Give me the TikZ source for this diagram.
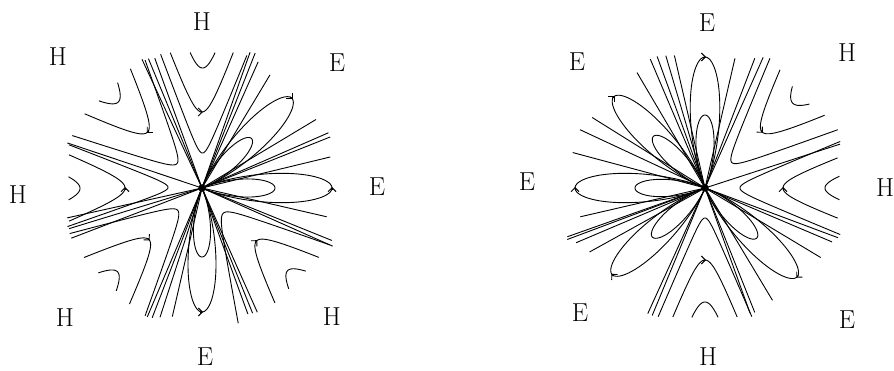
\documentclass[tikz,border=0pt]{standalone}
\usetikzlibrary{arrows.meta,calc}
% hyperbola-like trajectory: arm angles #1,#2 (at radius #4), vertex distance #3, arrow: #5 = 1 (ccw), -1 (cw), 0 (none)
\newcommand{\hypc}[5]{%
  \pgfmathsetmacro{\hm}{(#1+#2)/2}%
  \pgfmathsetmacro{\hh}{(#2-#1)/2/(1-asin(#3/#4)/90)}%
  \pgfmathsetmacro{\hV}{ln(#4/#3+sqrt((#4/#3)^2-1))}%
  \draw plot[domain=-\hV:\hV, samples=70, smooth, variable=\v]
    ({\cx+#3*cosh(\v)*cos(\hm-\hh+\hh/90*acos(-tanh(\v)))},
     {\cy+#3*cosh(\v)*sin(\hm-\hh+\hh/90*acos(-tanh(\v)))});%
  \ifnum#5=0 \else\tipat{\hm}{#3}{\hm+#5*90}\fi
}
% elliptic loop: direction #1, length #2, half opening #3, exponent #4, arrow #5
\newcommand{\petc}[5]{%
  \pgfmathsetmacro{\pw}{#3-0.05}%
  \draw (\cx,\cy) -- plot[domain=-\pw:\pw, samples=90, smooth, variable=\t]
    ({\cx+#2*pow(cos(90*\t/#3),#4)*cos(#1+\t)},
     {\cy+#2*pow(cos(90*\t/#3),#4)*sin(#1+\t)}) -- (\cx,\cy);%
  \ifnum#5=0 \else\tipat{#1}{#2}{#1+#5*90}\fi
}
% arrow head at polar point (#1:#2) from the centre, pointing to direction #3
\newcommand{\tipat}[3]{%
  \pgfmathsetmacro{\tdir}{#3}%
  \draw[-{Straight Barb[length=4pt,width=8pt]}] ($(\cx,\cy)+(#1:#2)+(\tdir+180:2)$) -- ++(\tdir:3);%
}
\begin{document}
\begin{tikzpicture}[x=1pt,y=1pt,line width=0.9pt,line join=round,
  lbl/.style={font=\fontsize{26pt}{30pt}\selectfont,inner sep=0pt},
  dot/.style={circle,fill,inner sep=0pt,minimum size=7.5pt}]
\useasboundingbox (0,0) rectangle (894,370);

% ---------------- left portrait ----------------
\def\cx{202}\def\cy{182}
\coordinate (c1) at (\cx,\cy);
\hypc{71.3}{107.2}{35}{140}{0}
\hypc{77}{103.2}{76}{139}{-1}
\hypc{84.5}{95}{120}{136}{0}
\hypc{114}{158}{35}{140}{0}
\hypc{121}{147.7}{78}{139}{1}
\hypc{128.7}{139.8}{120}{135}{0}
\hypc{162}{196}{34}{140}{0}
\hypc{166}{194}{77}{137}{-1}
\hypc{175.2}{185.1}{122}{134}{0}
\hypc{199}{246}{33}{140}{0}
\hypc{210.5}{238}{74}{137}{1}
\hypc{219.3}{230.2}{119}{134}{0}
\hypc{285}{336}{33}{140}{0}
\hypc{302.4}{329.3}{76}{136}{1}
\hypc{310.7}{321.3}{119}{133}{0}
\petc{270}{124}{30}{3}{1}
\petc{270}{69}{26}{1.8}{0}
\petc{0}{130}{30}{3}{1}
\petc{0}{73}{26}{1.8}{0}
\petc{45}{127}{30}{3}{-1}
\petc{45}{70}{26}{1.8}{0}
\foreach \a/\l in {110/138,112.5/140,115/142,59/132,66/138,68.5/145,70.5/144,
  13.6/132,21.7/138,23.6/138,31/133,-13/128,-22/140,-24/143,290/134,292/135,
  294/136,247/140,249/139,252/136,257/132,161.5/142,192.5/138,197/139,201/140}
  \draw (c1) -- +(\a:\l);
\node[dot] (o1) at (c1) {};
\node[lbl] (l1) at (202,348) {H};
\node[lbl] (l2) at (337,307) {E};
\node[lbl] (l3) at (377,183) {E};
\node[lbl] (l4) at (332,53) {H};
\node[lbl] (l5) at (205,13) {E};
\node[lbl] (l6) at (65,52) {H};
\node[lbl] (l7) at (18,175) {H};
\node[lbl] (l8) at (58,313) {H};

% ---------------- right portrait ----------------
\def\cx{705}\def\cy{182}
\coordinate (c2) at (\cx,\cy);
\hypc{-19}{19}{35}{143}{0}
\hypc{-12.8}{12.8}{78}{136}{1}
\hypc{-5}{5}{120}{135}{0}
\hypc{23.7}{63.4}{37}{145}{0}
\hypc{31.3}{57.6}{80}{140}{-1}
\hypc{38.8}{49.3}{122}{134}{0}
\hypc{250}{290}{30}{137}{0}
\hypc{256}{284}{72}{133}{1}
\hypc{264.2}{275.8}{114}{130}{0}
\petc{90}{131}{30}{3}{-1}
\petc{90}{73}{26}{1.8}{0}
\petc{135}{129}{30}{3}{-1}
\petc{135}{73}{26}{1.8}{0}
\petc{180}{130}{30}{3}{-1}
\petc{180}{70}{26}{1.8}{0}
\petc{223}{127}{30}{3}{-1}
\petc{223}{72}{26}{1.8}{0}
\petc{316}{128}{30}{3}{-1}
\petc{316}{72}{26}{1.8}{0}
\foreach \a/\l in {18/142,77/133,69/139,66/143,103/136,106.5/138,110/140,113/140,
  120.5/134,148/133,155/138,165/137,193/128,199.5/146,200.5/147,203/140,209/132,
  245.5/138,247.5/138,289.8/133,291.8/134,301/131,-31/135,-23/138,-20.5/142}
  \draw (c2) -- +(\a:\l);
\node[dot] (o2) at (c2) {};
\node[lbl] (r1) at (707,347) {E};
\node[lbl] (r2) at (847,317) {H};
\node[lbl] (r3) at (885,182) {H};
\node[lbl] (r4) at (847,50) {E};
\node[lbl] (r5) at (708,13) {H};
\node[lbl] (r6) at (580,57) {E};
\node[lbl] (r7) at (527,188) {E};
\node[lbl] (r8) at (577,308) {E};
\end{tikzpicture}
\end{document}
